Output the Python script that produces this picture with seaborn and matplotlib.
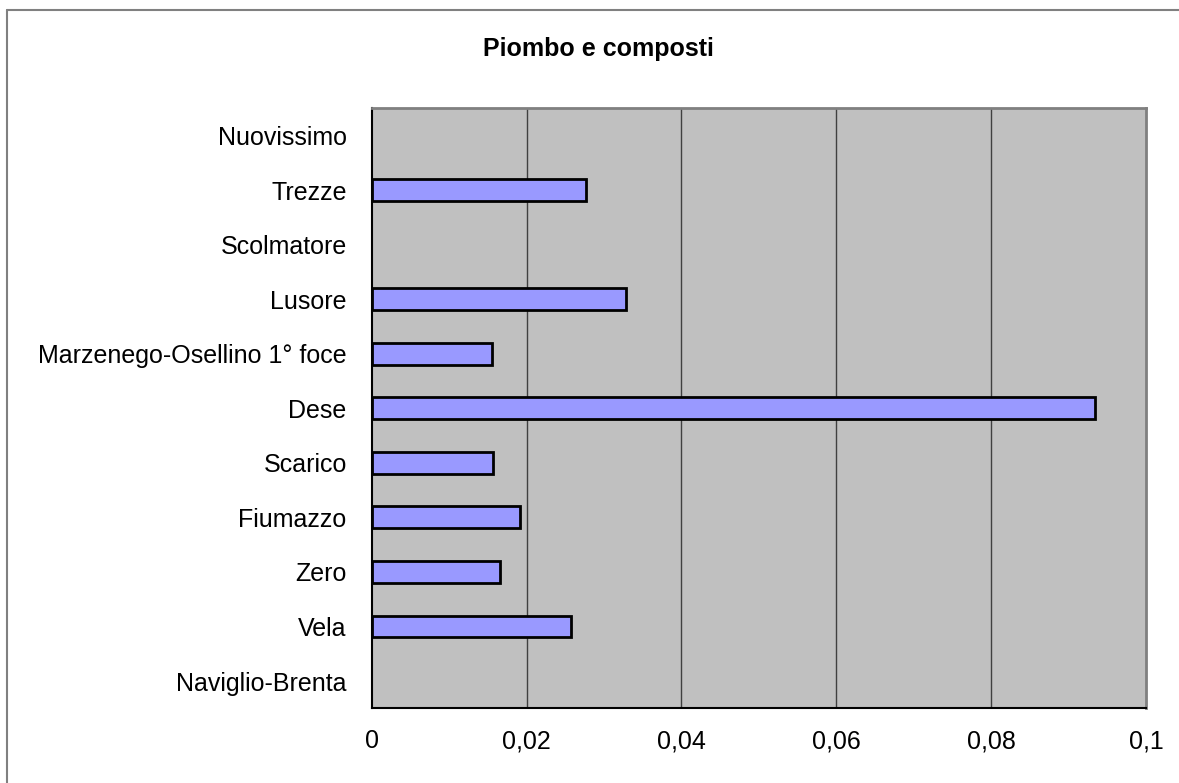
import numpy as np
import pandas as pd
import matplotlib
matplotlib.use("Agg")
import matplotlib.pyplot as plt
from matplotlib.ticker import FixedLocator
import seaborn as sns

# Sampling stations, listed top to bottom
stations = [
    "Nuovissimo", "Trezze", "Scolmatore", "Lusore",
    "Marzenego-Osellino 1° foce", "Dese", "Scarico", "Fiumazzo",
    "Zero", "Vela", "Naviglio-Brenta",
]
# Lead and compounds load (empty where no value was measured)
piombo = [np.nan, 0.0277, np.nan, 0.0328, 0.0155, 0.0934,
          0.0156, 0.0192, 0.0166, 0.0257, np.nan]
x_ticks = [0, 0.02, 0.04, 0.06, 0.08, 0.1]
x_tick_labels = ["0", "0,02", "0,04", "0,06", "0,08", "0,1"]

df = pd.DataFrame({"stazione": stations, "valore": piombo})

sns.set_style("white")
plt.rcParams["font.family"] = ["Liberation Sans", "DejaVu Sans"]

fig = plt.figure(figsize=(11.79, 7.83), dpi=100)
ax = fig.add_axes([0.3153, 0.0954, 0.972 - 0.3153, 0.8617 - 0.0954])
ax.set_facecolor("#C0C0C0")

sns.barplot(data=df, x="valore", y="stazione", order=stations, orient="h",
            color="#9999FF", saturation=1, width=0.4,
            edgecolor="black", linewidth=2, ax=ax, zorder=3)

ax.set_xlim(0, 0.1)
ax.set_ylim(len(stations) - 0.5, -0.5)
ax.set_xlabel("")
ax.set_ylabel("")

# vertical gridlines
ax.set_xticks(x_ticks)
ax.set_xticklabels(x_tick_labels)
for v in x_ticks[1:-1]:
    ax.axvline(v, color="#404040", linewidth=1, zorder=1)

# tick styling
ax.tick_params(axis="x", direction="out", length=6, width=1, color="#404040",
               labelsize=18, pad=9, labelcolor="black")
ax.tick_params(axis="y", which="major", length=0, labelsize=18, pad=18,
               labelcolor="black")
ax.yaxis.set_minor_locator(FixedLocator(np.arange(-0.5, len(stations), 1.0)))
ax.tick_params(axis="y", which="minor", direction="out", length=6, width=1,
               color="#404040")

for side in ["left", "bottom"]:
    ax.spines[side].set_color("black")
    ax.spines[side].set_linewidth(1.5)
for side in ["top", "right"]:
    ax.spines[side].set_visible(True)
    ax.spines[side].set_color("#808080")
    ax.spines[side].set_linewidth(2)

fig.text(0.508, 0.938, "Piombo e composti", ha="center", va="center",
         fontsize=18, fontweight="bold", color="black")

# chart frame
fig.add_artist(plt.Line2D([6.5 / 1179, 6.5 / 1179], [0, 1 - 9.5 / 783],
                          color="#808080", linewidth=1.5))
fig.add_artist(plt.Line2D([6.5 / 1179, 1], [1 - 9.5 / 783, 1 - 9.5 / 783],
                          color="#808080", linewidth=1.5))

fig.savefig("out.png", dpi=100)
